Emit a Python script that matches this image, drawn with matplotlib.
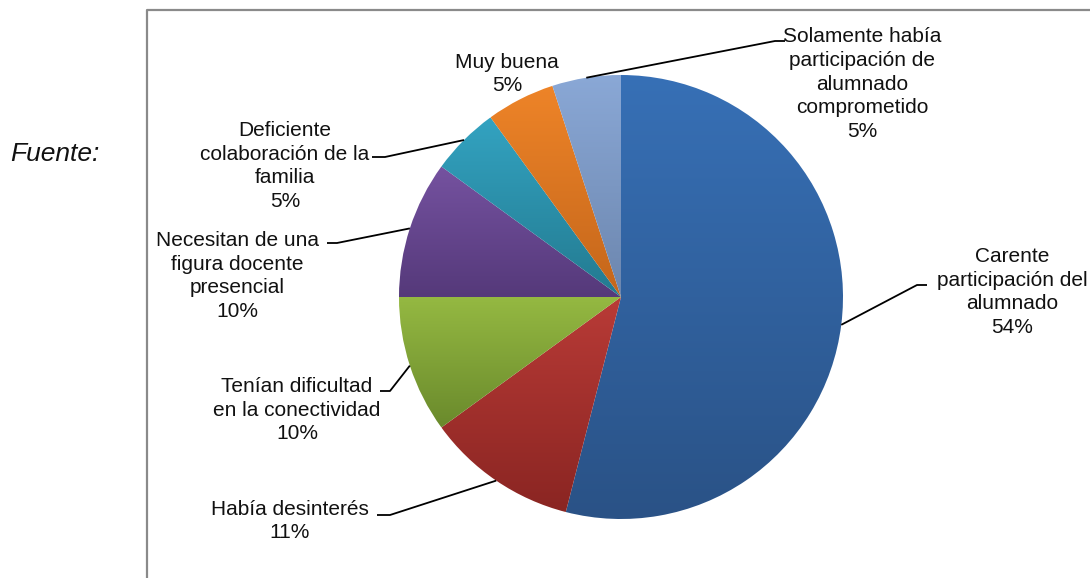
import numpy as np
import matplotlib
matplotlib.use("Agg")
import matplotlib.pyplot as plt
from matplotlib.colors import to_rgb, LinearSegmentedColormap

labels = ["Carente\nparticipación del\nalumnado",
          "Había desinterés",
          "Tenían dificultad\nen la conectividad",
          "Necesitan de una\nfigura docente\npresencial",
          "Deficiente\ncolaboración de la\nfamilia",
          "Muy buena",
          "Solamente había\nparticipación de\nalumnado\ncomprometido"]
values = [54, 11, 10, 10, 5, 5, 5]
top_colors = ["#3770B6", "#B93B37", "#95B942", "#7552A0", "#33A3C1", "#EE8428", "#8AA8D6"]
bot_colors = ["#2A5286", "#8A2522", "#6A8A2C", "#55397A", "#237A90", "#C4661B", "#6C86AE"]

W, H = 1090, 578
fig = plt.figure(figsize=(W / 100, H / 100), dpi=100)
ax = fig.add_axes([0, 0, 1, 1])

def P(x, y):
    return (x, H - y)

cx, cy = P(621, 297)
R = 222
wedges, _ = ax.pie(values, startangle=90, counterclock=False, center=(cx, cy),
                   radius=R, colors=top_colors,
                   wedgeprops=dict(edgecolor="none", linewidth=0))
ax.set_xlim(0, W)
ax.set_ylim(0, H)
ax.set_aspect("auto")
ax.axis("off")

# vertical gradient fill per slice
fig.canvas.draw()
inv = ax.transData.inverted()
for w, ct, cb in zip(wedges, top_colors, bot_colors):
    bb = w.get_window_extent().transformed(inv)
    cmap = LinearSegmentedColormap.from_list("g", [to_rgb(cb), to_rgb(ct)])
    grad = np.linspace(0, 1, 256).reshape(-1, 1)
    im = ax.imshow(grad, cmap=cmap, origin="lower", aspect="auto",
                   extent=(bb.x0, bb.x1, bb.y0, bb.y1), zorder=2,
                   interpolation="bilinear")
    im.set_clip_path(w)
    w.set_facecolor("none")
ax.set_xlim(0, W)
ax.set_ylim(0, H)

# label layout (pixel positions of label centres and leader elbows)
label_pos = [(1012, 292), (290, 521), (297, 410), (237, 276), (285, 166), (507, 74), (862, 84)]
elbows = [((917, 285), (927, 285)), ((390, 515), (377, 515)), ((390, 391), (380, 391)),
          ((337, 243), (327, 243)), ((385, 157), (372, 157)), None, ((775, 41), (785, 41))]

font = ["Liberation Sans", "DejaVu Sans"]
for w, lab, v, pos, el in zip(wedges, labels, values, label_pos, elbows):
    txt = f"{lab}\n{v}%"
    ax.text(*P(*pos), txt, ha="center", va="center", fontsize=15,
            family=font, color="#111111", linespacing=1.33, zorder=5)
    if el is not None:
        th = np.deg2rad((w.theta1 + w.theta2) / 2)
        sx, sy = cx + R * np.cos(th), cy + R * np.sin(th)
        (ex, ey), (hx, hy) = el
        ex, ey = P(ex, ey)
        hx, hy = P(hx, hy)
        ax.plot([sx, ex, hx], [sy, ey, hy], color="black", lw=1.3, zorder=4,
                solid_capstyle="butt")

# chart frame
ax.plot([147, 147, W], [0, H - 10, H - 10], color="#8a8a8a", lw=1.6, zorder=6)

ax.text(*P(55, 154), "Fuente:", ha="center", va="center", fontsize=19,
        style="italic", family=font, color="#111111")

fig.savefig("out.png", dpi=100)
